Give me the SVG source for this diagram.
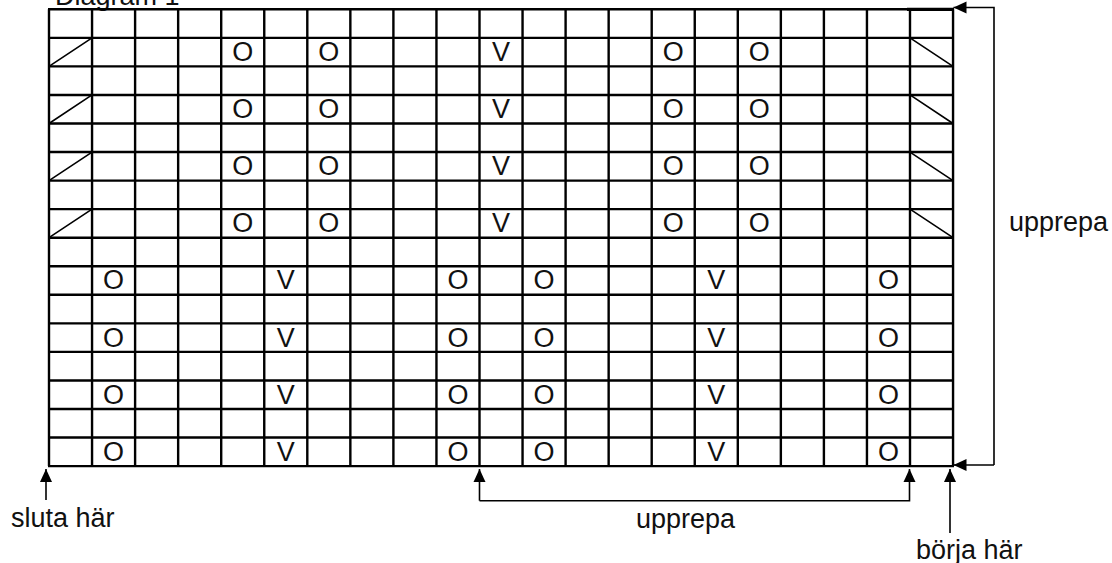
<svg xmlns="http://www.w3.org/2000/svg" width="1112" height="563" viewBox="0 0 1112 563">
<style>
.grid{fill:none;stroke:#000;stroke-width:2.4}
.diag{fill:none;stroke:#000;stroke-width:1.6}
.sym{font-family:"Liberation Sans",Arial,sans-serif;font-size:27px;fill:#111;text-anchor:middle}
.lbl{font-family:"Liberation Sans",Arial,sans-serif;font-size:27px;fill:#111}
.conn{fill:none;stroke:#000;stroke-width:1.6}
</style>
<defs>
<marker id="ah" markerUnits="userSpaceOnUse" markerWidth="14" markerHeight="14" viewBox="0 0 14 14" refX="13" refY="7" orient="auto">
<path d="M0,1 L13,7 L0,13 Z" fill="#000"/>
</marker>
</defs>
<rect width="1112" height="563" fill="#fff"/>
<text id="title" class="lbl" x="55" y="5">Diagram 1</text>
<g id="grid">
<path class="grid" d="M49,9.3V466.1 M92.05,9.3V466.1 M135.1,9.3V466.1 M178.15,9.3V466.1 M221.2,9.3V466.1 M264.25,9.3V466.1 M307.3,9.3V466.1 M350.35,9.3V466.1 M393.4,9.3V466.1 M436.45,9.3V466.1 M479.5,9.3V466.1 M522.55,9.3V466.1 M565.6,9.3V466.1 M608.65,9.3V466.1 M651.7,9.3V466.1 M694.75,9.3V466.1 M737.8,9.3V466.1 M780.85,9.3V466.1 M823.9,9.3V466.1 M866.95,9.3V466.1 M910,9.3V466.1 M953.05,9.3V466.1
M48,9.3H954 M48,37.85H954 M48,66.4H954 M48,94.95H954 M48,123.5H954 M48,152.05H954 M48,180.6H954 M48,209.15H954 M48,237.7H954 M48,266.25H954 M48,294.8H954 M48,323.35H954 M48,351.9H954 M48,380.45H954 M48,409H954 M48,437.55H954 M48,466.1H954"/>
<path d="M907,9.3H954" stroke="#000" stroke-width="3.2"/>
<path class="diag" d="M49,66.4L92.05,37.85 M49,123.5L92.05,94.95 M49,180.6L92.05,152.05 M49,237.7L92.05,209.15
M910,37.85L953.05,66.4 M910,94.95L953.05,123.5 M910,152.05L953.05,180.6 M910,209.15L953.05,237.7"/>
</g>
<g id="symbols-top">
<text class="sym" x="242.7" y="61">O</text><text class="sym" x="328.8" y="61">O</text><text class="sym" x="501" y="61">V</text><text class="sym" x="673.2" y="61">O</text><text class="sym" x="759.3" y="61">O</text>
<text class="sym" x="242.7" y="118.1">O</text><text class="sym" x="328.8" y="118.1">O</text><text class="sym" x="501" y="118.1">V</text><text class="sym" x="673.2" y="118.1">O</text><text class="sym" x="759.3" y="118.1">O</text>
<text class="sym" x="242.7" y="175.2">O</text><text class="sym" x="328.8" y="175.2">O</text><text class="sym" x="501" y="175.2">V</text><text class="sym" x="673.2" y="175.2">O</text><text class="sym" x="759.3" y="175.2">O</text>
<text class="sym" x="242.7" y="232.3">O</text><text class="sym" x="328.8" y="232.3">O</text><text class="sym" x="501" y="232.3">V</text><text class="sym" x="673.2" y="232.3">O</text><text class="sym" x="759.3" y="232.3">O</text>
</g>
<g id="symbols-bottom">
<text class="sym" x="113.6" y="289.4">O</text><text class="sym" x="285.8" y="289.4">V</text><text class="sym" x="458" y="289.4">O</text><text class="sym" x="544.1" y="289.4">O</text><text class="sym" x="716.3" y="289.4">V</text><text class="sym" x="888.5" y="289.4">O</text>
<text class="sym" x="113.6" y="346.5">O</text><text class="sym" x="285.8" y="346.5">V</text><text class="sym" x="458" y="346.5">O</text><text class="sym" x="544.1" y="346.5">O</text><text class="sym" x="716.3" y="346.5">V</text><text class="sym" x="888.5" y="346.5">O</text>
<text class="sym" x="113.6" y="403.6">O</text><text class="sym" x="285.8" y="403.6">V</text><text class="sym" x="458" y="403.6">O</text><text class="sym" x="544.1" y="403.6">O</text><text class="sym" x="716.3" y="403.6">V</text><text class="sym" x="888.5" y="403.6">O</text>
<text class="sym" x="113.6" y="460.7">O</text><text class="sym" x="285.8" y="460.7">V</text><text class="sym" x="458" y="460.7">O</text><text class="sym" x="544.1" y="460.7">O</text><text class="sym" x="716.3" y="460.7">V</text><text class="sym" x="888.5" y="460.7">O</text>
</g>
<g id="connectors">
<path class="conn" d="M994,465 V7.5 H953.5" marker-end="url(#ah)"/>
<path class="conn" d="M994,465 H953.5" marker-end="url(#ah)"/>
<path class="conn" d="M479.5,500.7 V469" marker-end="url(#ah)"/>
<path class="conn" d="M479.5,500.7 H909.5 V469" marker-end="url(#ah)"/>
<path class="conn" d="M46,500 V469" marker-end="url(#ah)"/>
<path class="conn" d="M950,533 V469" marker-end="url(#ah)"/>
</g>
<g id="labels">
<text id="lbl-sluta" class="lbl" x="11" y="527">sluta här</text>
<text id="lbl-upprepa-bottom" class="lbl" x="636" y="528">upprepa</text>
<text id="lbl-upprepa-right" class="lbl" x="1009" y="231">upprepa</text>
<text id="lbl-borja" class="lbl" x="916" y="559">börja här</text>
</g>
</svg>
